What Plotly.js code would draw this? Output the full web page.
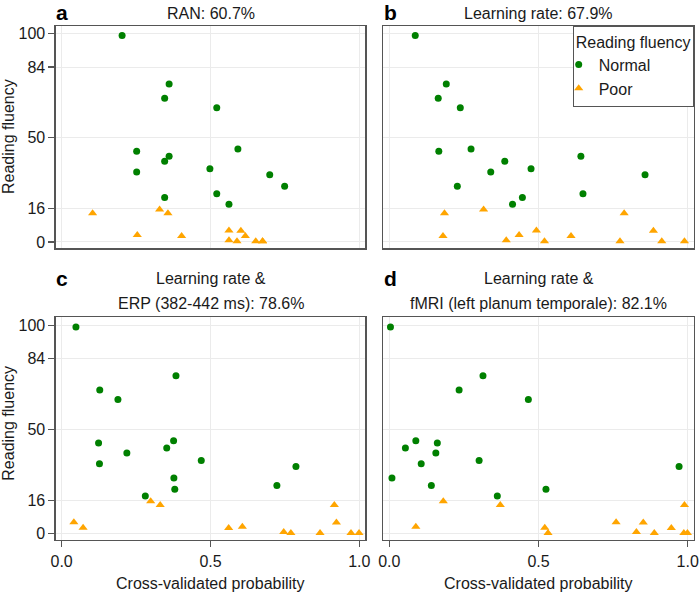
<!DOCTYPE html>
<html>
<head>
<meta charset="utf-8">
<script src="https://cdn.plot.ly/plotly-3.0.1.min.js"></script>
<style>html,body{margin:0;padding:0;background:#fff}#chart{width:700px;height:595px}</style>
</head>
<body>
<div id="chart"></div>
<script>
// Panel titles
const panelLetters = ["a", "b", "c", "d"];
const panelTitles = [
  ["RAN: 60.7%"],
  ["Learning rate: 67.9%"],
  ["Learning rate &", "ERP (382-442 ms): 78.6%"],
  ["Learning rate &", "fMRI (left planum temporale): 82.1%"]
];
const groupNames = ["Normal", "Poor"];
const yTickVals = [0, 16, 50, 84, 100];
const xTickVals = [0, 0.5, 1];
const xTickText = ["0.0", "0.5", "1.0"];

// Panel a: RAN
const aNormalX = [0.203,0.361,0.346,0.521,0.252,0.592,0.361,0.346,0.252,0.498,0.699,0.749,0.521,0.346,0.562];
const aNormalY = [99.2,75.8,69.0,64.4,43.5,44.6,41.1,38.8,33.6,35.1,32.3,26.8,23.2,21.3,18.1];
const aPoorX = [0.104,0.329,0.357,0.254,0.403,0.562,0.602,0.562,0.589,0.617,0.652,0.675,0.675];
const aPoorY = [13.8,15.6,13.8,3.3,2.8,5.5,5.4,0.8,0.3,2.9,0.3,0.3,0.3];

// Panel b: Learning rate
const bNormalX = [0.087,0.191,0.164,0.238,0.166,0.274,0.642,0.387,0.340,0.475,0.857,0.228,0.649,0.446,0.413];
const bNormalY = [99.2,75.8,69.0,64.4,43.5,44.6,41.1,38.8,33.6,35.1,32.3,26.8,23.2,21.3,18.1];
const bPoorX = [0.185,0.316,0.787,0.180,0.392,0.435,0.493,0.520,0.609,0.773,0.885,0.913,0.989];
const bPoorY = [13.8,15.6,13.8,2.8,0.8,3.3,5.5,0.3,2.9,0.3,5.4,0.3,0.3];

// Panel c: Learning rate & ERP
const cNormalX = [0.048,0.384,0.128,0.189,0.124,0.376,0.353,0.219,0.127,0.469,0.787,0.377,0.723,0.380,0.281];
const cNormalY = [99.2,75.8,69.0,64.4,43.5,44.6,41.1,38.8,33.6,35.1,32.3,26.8,23.2,21.3,18.1];
const cPoorX = [0.299,0.331,0.916,0.041,0.072,0.561,0.607,0.923,0.746,0.770,0.868,0.972,0.999];
const cPoorY = [15.6,13.8,13.8,5.5,2.9,2.8,3.3,5.4,0.8,0.3,0.3,0.3,0.3];

// Panel d: Learning rate & fMRI
const dNormalX = [0.004,0.314,0.234,0.466,0.089,0.161,0.054,0.156,0.107,0.301,0.971,0.009,0.141,0.525,0.362];
const dNormalY = [99.2,75.8,69.0,64.4,44.6,43.5,41.1,38.8,33.6,35.1,32.3,26.8,23.2,21.3,18.1];
const dPoorX = [0.181,0.372,0.989,0.089,0.521,0.532,0.760,0.851,0.828,0.888,0.945,0.987,0.999];
const dPoorY = [15.6,13.8,13.8,3.3,2.9,0.3,5.5,5.4,0.8,0.3,2.8,0.3,0.3];

const panels = [
  {nx: aNormalX, ny: aNormalY, px: aPoorX, py: aPoorY},
  {nx: bNormalX, ny: bNormalY, px: bPoorX, py: bPoorY},
  {nx: cNormalX, ny: cNormalY, px: cPoorX, py: cPoorY},
  {nx: dNormalX, ny: dNormalY, px: dPoorX, py: dPoorY}
];

const W = 700, H = 595;
const FONT = "Liberation Sans, Arial, Helvetica, sans-serif";
const GREEN = "#008000", ORANGE = "#FFA500";
const FRAME = "#555555", GRID = "#ebebeb", TXT = "#1a1a1a";

// pixel geometry of panels
const colX = [[55.7, 365.3], [383.3, 693.7]];
const rowY = [[25.8, 248.2], [317.4, 540.0]];
const px2x = p => p / W;
const px2y = p => 1 - p / H;

const traces = [];
panels.forEach((p, i) => {
  const ax = i === 0 ? "" : String(i + 1);
  traces.push({
    type: "scatter", mode: "markers", x: p.nx, y: p.ny,
    xaxis: "x" + ax, yaxis: "y" + ax,
    name: groupNames[0], legendgroup: "n", showlegend: i === 1,
    marker: {color: GREEN, size: 7, symbol: "circle"}
  });
  traces.push({
    type: "scatter", mode: "markers", x: p.px, y: p.py,
    xaxis: "x" + ax, yaxis: "y" + ax,
    name: groupNames[1], legendgroup: "p", showlegend: i === 1,
    marker: {color: ORANGE, size: 8, symbol: "triangle-up"}
  });
});

const layout = {
  width: W, height: H,
  margin: {l: 0, r: 0, t: 0, b: 0},
  paper_bgcolor: "#fff", plot_bgcolor: "#fff",
  font: {family: FONT, size: 15, color: TXT},
  showlegend: true,
  legend: {
    x: px2x(693.7), xanchor: "right", y: px2y(25.8), yanchor: "top",
    bgcolor: "#fff", bordercolor: FRAME, borderwidth: 1,
    font: {family: FONT, size: 16, color: TXT},
    title: {text: "Reading fluency", font: {family: FONT, size: 16, color: TXT}},
    itemwidth: 30, indentation: -15, tracegroupgap: 0
  },
  annotations: []
};

panels.forEach((p, i) => {
  const col = i % 2, row = Math.floor(i / 2);
  const ax = i === 0 ? "" : String(i + 1);
  const isLeft = col === 0, isBottom = row === 1;
  layout["xaxis" + ax] = {
    domain: [px2x(colX[col][0]), px2x(colX[col][1])],
    anchor: "y" + ax, range: [-0.02, 1.02],
    tickvals: xTickVals, ticktext: xTickText,
    showticklabels: isBottom, ticks: isBottom ? "outside" : "",
    ticklen: 6, tickwidth: 1.3, tickcolor: FRAME,
    tickfont: {family: FONT, size: 16, color: TXT},
    showgrid: true, gridcolor: GRID, gridwidth: 1, zeroline: false,
    showline: true, mirror: true, linecolor: FRAME, linewidth: 1.3
  };
  layout["yaxis" + ax] = {
    domain: [px2y(rowY[row][1]), px2y(rowY[row][0])],
    anchor: "x" + ax, range: [-3.0, 103.8],
    tickvals: yTickVals,
    showticklabels: isLeft, ticks: isLeft ? "outside" : "",
    ticklen: 6, tickwidth: 1.3, tickcolor: FRAME,
    tickfont: {family: FONT, size: 16, color: TXT},
    showgrid: true, gridcolor: GRID, gridwidth: 1, zeroline: false,
    showline: true, mirror: true, linecolor: FRAME, linewidth: 1.3
  };
  const cx = (colX[col][0] + colX[col][1]) / 2;
  const letterY = row === 0 ? 12 : 278;
  layout.annotations.push({
    xref: "paper", yref: "paper", x: px2x(col === 0 ? 62 : 390), y: px2y(letterY),
    xanchor: "center", yanchor: "middle", showarrow: false,
    text: "<b>" + panelLetters[i] + "</b>", font: {family: FONT, size: 21, color: "#000"}
  });
  const lines = panelTitles[i];
  const lineYs = lines.length === 1 ? [13.5] : [278.3, 303.3];
  lines.forEach((t, k) => {
    layout.annotations.push({
      xref: "paper", yref: "paper", x: px2x(cx), y: px2y(lineYs[k]),
      xanchor: "center", yanchor: "middle", showarrow: false,
      text: t, font: {family: FONT, size: 16, color: TXT}
    });
  });
  if (isLeft) {
    const cy = (rowY[row][0] + rowY[row][1]) / 2;
    layout.annotations.push({
      xref: "paper", yref: "paper", x: px2x(9), y: px2y(row === 0 ? cy : cy - 5),
      xanchor: "center", yanchor: "middle", showarrow: false, textangle: -90,
      text: "Reading fluency", font: {family: FONT, size: 16, color: TXT}
    });
  }
  if (isBottom) {
    layout.annotations.push({
      xref: "paper", yref: "paper", x: px2x(cx), y: px2y(583),
      xanchor: "center", yanchor: "middle", showarrow: false,
      text: "Cross-validated probability", font: {family: FONT, size: 16, color: TXT}
    });
  }
});

Plotly.newPlot("chart", traces, layout, {displayModeBar: false, staticPlot: true});
</script>
</body>
</html>
